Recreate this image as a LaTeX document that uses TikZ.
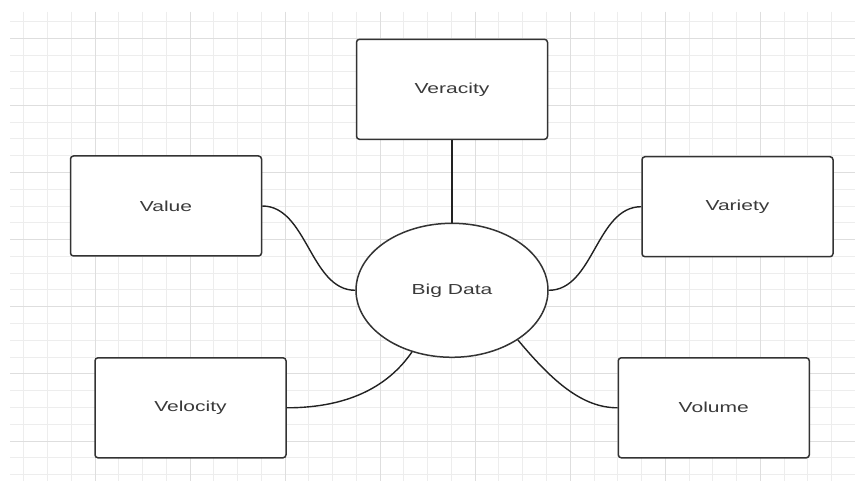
\documentclass[tikz,border=0pt]{standalone}
\usepackage{fontspec}
\setmainfont{Liberation Sans}
\usetikzlibrary{shapes.geometric}
\definecolor{gridminor}{HTML}{EDEDED}
\definecolor{gridmajor}{HTML}{DEDEDE}
\definecolor{boxline}{HTML}{333333}
\definecolor{txt}{HTML}{3A3A3A}
\definecolor{wire}{HTML}{222222}
\newcommand{\lbl}[1]{\scalebox{1.45}[1]{\fontsize{14.5}{17}\selectfont #1}}
\begin{document}
\begin{tikzpicture}[x=1pt,y=-1pt,
  box/.style={draw=boxline, fill=white, line width=1.5pt, rounded corners=3pt,
    minimum width=191pt, minimum height=100pt, inner sep=0pt, text=txt},
  hub/.style={ellipse, draw=boxline, fill=white, line width=1.5pt,
    minimum width=192pt, minimum height=134pt, inner sep=0pt, text=txt},
  link/.style={draw=wire, line width=1.4pt},
  gminor/.style={draw=gridminor, line width=1pt},
  gmajor/.style={draw=gridmajor, line width=1pt}]
\useasboundingbox (0,0) rectangle (855,481);
\fill[white] (0,0) rectangle (855,481);
% grid
\foreach \k in {1,...,35}{\draw[gminor] ({23.76*\k},12) -- ({23.76*\k},481);}
\foreach \n in {0,...,27}{\draw[gminor] (10,{21.5+16.78*\n}) -- (855,{21.5+16.78*\n});}
\foreach \k in {4,8,...,32}{\draw[gmajor] ({23.76*\k},12) -- ({23.76*\k},481);}
\foreach \n in {1,5,...,25}{\draw[gmajor] (10,{21.5+16.78*\n}) -- (855,{21.5+16.78*\n});}
% nodes
\node[box] (ver) at (452,89.3) {\lbl{Veracity}};
\node[box] (val) at (166,206) {\lbl{Value}};
\node[box] (var) at (737.5,206.7) {\lbl{Variety}};
\node[box] (vel) at (190.5,407.8) {\lbl{Velocity}};
\node[box] (vol) at (713.8,407.8) {\lbl{Volume}};
\node[hub] (bd) at (452,290.3) {\lbl{Big Data}};
% connectors
\draw[link, line width=2pt] (ver.south) -- (bd.north);
\draw[link] (val.east) .. controls +(45,0) and +(-45,0) .. (bd.west);
\draw[link] (var.west) .. controls +(-45,0) and +(45,0) .. (bd.east);
\draw[link] (vel.east) .. controls +(65,0) and +(-22,32) .. (bd.237.2);
\draw[link] (bd.-37) .. controls +(35,42) and +(-35,0) .. (vol.west);
\end{tikzpicture}
\end{document}
